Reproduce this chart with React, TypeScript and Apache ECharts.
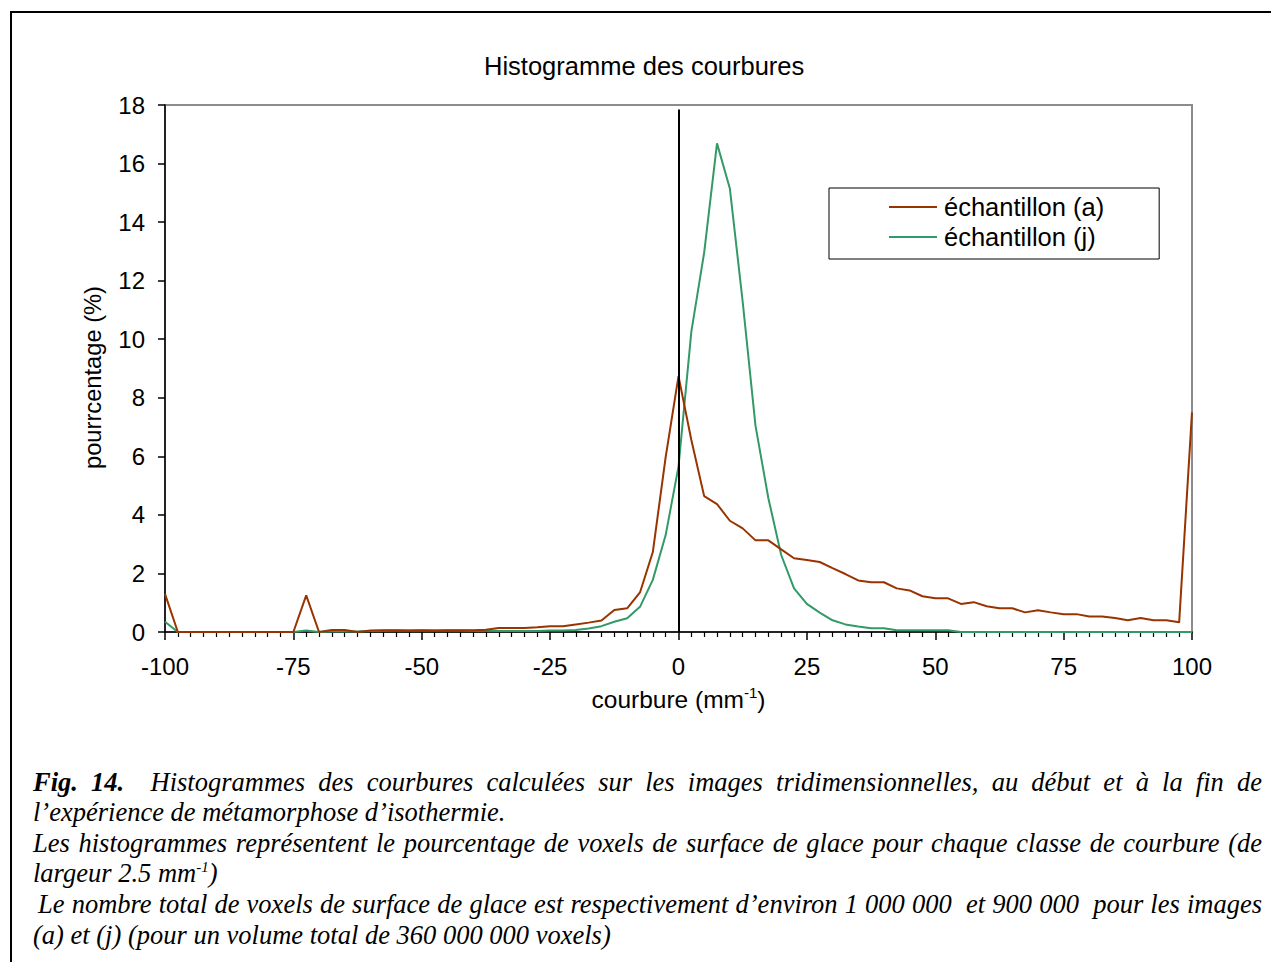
import React, { useEffect, useRef } from "react";
import * as echarts from "echarts";

const curvature = [
  -100, -97.5, -95, -92.5, -90, -87.5, -85, -82.5, -80, -77.5,
  -75, -72.5, -70, -67.5, -65, -62.5, -60, -57.5, -55, -52.5,
  -50, -47.5, -45, -42.5, -40, -37.5, -35, -32.5, -30, -27.5,
  -25, -22.5, -20, -17.5, -15, -12.5, -10, -7.5, -5, -2.5,
  0,
  2.5, 5, 7.5, 10, 12.5, 15, 17.5, 20, 22.5,
  25, 27.5, 30, 32.5, 35, 37.5, 40, 42.5, 45, 47.5,
  50, 52.5, 55, 57.5, 60, 62.5, 65, 67.5, 70, 72.5,
  75, 77.5, 80, 82.5, 85, 87.5, 90, 92.5, 95, 97.5,
  100,
];

const sampleA = [
  1.3, 0, 0, 0, 0, 0, 0, 0, 0, 0,
  0, 1.25, 0, 0.07, 0.07, 0, 0.05, 0.06, 0.06, 0.05,
  0.06, 0.05, 0.06, 0.06, 0.06, 0.08, 0.14, 0.14, 0.14, 0.16,
  0.2, 0.2, 0.26, 0.32, 0.39, 0.75, 0.81, 1.35, 2.73, 5.97,
  8.74,
  6.56, 4.64, 4.37, 3.8, 3.54, 3.13, 3.13, 2.82, 2.52,
  2.46, 2.39, 2.18, 1.98, 1.76, 1.7, 1.7, 1.49, 1.42, 1.22,
  1.15, 1.15, 0.96, 1.02, 0.88, 0.81, 0.81, 0.67, 0.74, 0.67,
  0.61, 0.61, 0.53, 0.53, 0.48, 0.4, 0.48, 0.4, 0.4, 0.33,
  7.5,
];

const sampleJ = [
  0.35, 0, 0, 0, 0, 0, 0, 0, 0, 0,
  0, 0.05, 0, 0.02, 0.02, 0.02, 0.03, 0.04, 0.05, 0.05,
  0.05, 0.05, 0.05, 0.05, 0.04, 0.04, 0.03, 0.03, 0.03, 0.03,
  0.05, 0.05, 0.07, 0.12, 0.2, 0.35, 0.47, 0.86, 1.78, 3.31,
  5.65,
  10.26, 12.96, 16.69, 15.15, 11.28, 7.04, 4.57, 2.63, 1.49,
  0.96, 0.66, 0.4, 0.26, 0.19, 0.13, 0.13, 0.06, 0.06, 0.06,
  0.06, 0.06, 0, 0, 0, 0, 0, 0, 0, 0,
  0, 0, 0, 0, 0, 0, 0, 0, 0, 0,
  0,
];

const seriesNames = ["échantillon (a)", "échantillon (j)"];
const seriesColors = ["#993300", "#339966"];
const chartTitle = "Histogramme des courbures";
const yAxisTitle = "pourrcentage (%)";

const SANS = "'Liberation Sans', Arial, sans-serif";
const SERIF = "'Liberation Serif', 'Times New Roman', serif";

export default function App() {
  const ref = useRef<HTMLDivElement>(null);

  useEffect(() => {
    if (!ref.current) return;
    const chart = echarts.init(ref.current, null, { renderer: "svg" });
    const toPairs = (vals: number[]) => curvature.map((x, i) => [x, vals[i]]);
    chart.setOption({
      animation: false,
      backgroundColor: "transparent",
      textStyle: { fontFamily: SANS },
      title: {
        text: chartTitle,
        left: 484,
        top: 53,
        padding: 0,
        textStyle: { fontSize: 25.5, fontWeight: "normal", color: "#000", fontFamily: SANS },
      },
      legend: {
        orient: "vertical",
        left: 829,
        top: 188,
        padding: [6, 55, 9, 60],
        itemGap: 4,
        itemWidth: 48,
        itemHeight: 2,
        icon: "rect",
        borderColor: "#000",
        borderWidth: 1,
        backgroundColor: "#fff",
        textStyle: { fontSize: 25.5, color: "#000", fontFamily: SANS, padding: [0, 0, 0, 2] },
        data: seriesNames,
      },
      grid: {
        left: 165,
        top: 105,
        right: 79,
        bottom: 330,
        show: true,
        borderColor: "#8c8c8c",
        borderWidth: 2,
        backgroundColor: "#fff",
      },
      xAxis: {
        type: "value",
        min: -100,
        max: 100,
        interval: 25,
        name: "{a|courbure (mm}{s|-1}{a|)}",
        nameLocation: "middle",
        nameGap: 53,
        nameTextStyle: {
          rich: {
            a: { fontSize: 24.5, color: "#000", fontFamily: SANS },
            s: { fontSize: 15, color: "#000", fontFamily: SANS, verticalAlign: "top", padding: [0, 0, 14, 0] },
          },
        },
        axisLine: { lineStyle: { color: "#000", width: 1.5 } },
        axisTick: { show: true, length: 8, lineStyle: { color: "#000", width: 1.5 } },
        minorTick: { show: true, splitNumber: 10, length: 5, lineStyle: { color: "#000", width: 1.2 } },
        axisLabel: { fontSize: 24, color: "#000", margin: 22, fontFamily: SANS },
        splitLine: { show: false },
      },
      yAxis: {
        type: "value",
        min: 0,
        max: 18,
        interval: 2,
        name: yAxisTitle,
        nameLocation: "middle",
        nameGap: 60,
        nameTextStyle: { fontSize: 23.7, color: "#000", fontFamily: SANS, padding: [0, 18, 0, 0] },
        axisLine: { show: true, onZero: false, lineStyle: { color: "#000", width: 1.5 } },
        axisTick: { show: true, length: 7, lineStyle: { color: "#000", width: 1.5 } },
        axisLabel: { fontSize: 24, color: "#000", margin: 20, fontFamily: SANS },
        splitLine: { show: false },
      },
      series: [
        {
          name: seriesNames[0],
          type: "line",
          data: toPairs(sampleA),
          symbol: "none",
          color: seriesColors[0],
          lineStyle: { color: seriesColors[0], width: 2 },
          z: 3,
          markLine: {
            silent: true,
            symbol: "none",
            label: { show: false },
            lineStyle: { color: "#000", width: 2, type: "solid" },
            data: [[{ coord: [0, 0] }, { coord: [0, 17.85] }]],
          },
        },
        {
          name: seriesNames[1],
          type: "line",
          data: toPairs(sampleJ),
          symbol: "none",
          color: seriesColors[1],
          lineStyle: { color: seriesColors[1], width: 2 },
          z: 2,
        },
      ],
    });
    return () => chart.dispose();
  }, []);

  const capBase: React.CSSProperties = {
    position: "absolute",
    left: 33,
    width: 1229,
    fontFamily: SERIF,
    fontStyle: "italic",
    fontSize: 26.5,
    lineHeight: "30px",
    color: "#000",
    whiteSpace: "nowrap",
  };
  const just: React.CSSProperties = {
    whiteSpace: "normal",
    textAlign: "justify",
    textAlignLast: "justify",
  };

  return (
    <div style={{ position: "fixed", left: 0, top: 0, width: 1271, height: 962, background: "#fff", overflow: "hidden" }}>
      <div
        style={{
          position: "absolute",
          left: 10,
          top: 11,
          width: 1271,
          height: 962,
          borderLeft: "2px solid #000",
          borderTop: "2px solid #000",
        }}
      />
      <div ref={ref} style={{ position: "absolute", left: 0, top: 0, width: 1271, height: 962 }} />
      <div style={{ ...capBase, ...just, top: 767 }}>
        <b>Fig. 14.</b>&nbsp; Histogrammes des courbures calculées sur les images tridimensionnelles, au début et à la fin de
      </div>
      <div style={{ ...capBase, top: 797 }}>l’expérience de métamorphose d’isothermie.</div>
      <div style={{ ...capBase, ...just, top: 828 }}>
        Les histogrammes représentent le pourcentage de voxels de surface de glace pour chaque classe de courbure (de
      </div>
      <div style={{ ...capBase, top: 858 }}>
        largeur 2.5 mm<sup style={{ fontSize: 15, verticalAlign: "10px", lineHeight: 0 }}>-1</sup>)
      </div>
      <div style={{ ...capBase, ...just, top: 889, left: 38, width: 1224 }}>
        Le nombre total de voxels de surface de glace est respectivement d’environ 1 000 000&nbsp; et 900 000&nbsp; pour les images
      </div>
      <div style={{ ...capBase, top: 920 }}>(a) et (j) (pour un volume total de 360 000 000 voxels)</div>
    </div>
  );
}
